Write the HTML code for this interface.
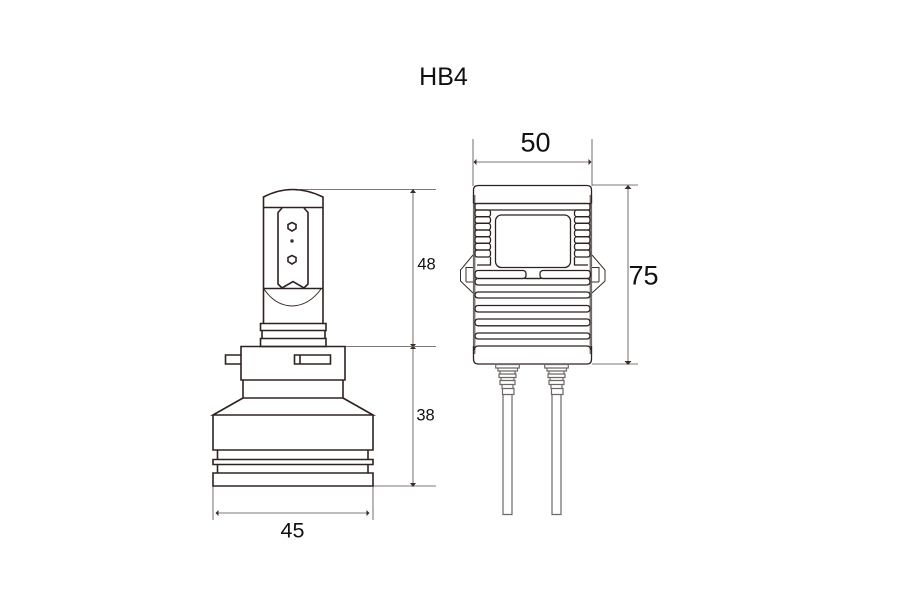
<!DOCTYPE html>
<html>
<head>
<meta charset="utf-8">
<style>
html,body{margin:0;padding:0;background:#fff}
svg{display:block}
text{font-family:"Liberation Sans",sans-serif;fill:#111;text-anchor:middle}
.k{fill:none;stroke:#2e2220;stroke-width:1.6}
.t{fill:none;stroke:#3a2c28;stroke-width:1}
.f{fill:none;stroke:#2e2220;stroke-width:1.3}
.g{fill:none;stroke:#6e6866;stroke-width:1.2}
.d{fill:none;stroke:#807a77;stroke-width:1.1}
.a{fill:#3a2c28}
</style>
</head>
<body>
<svg width="900" height="607" viewBox="0 0 900 607" xmlns="http://www.w3.org/2000/svg">
<rect width="900" height="607" fill="#fff"/>
<text x="443.500" y="85" font-size="25">HB4</text>

<!-- Bulb dimensions -->
<path class="d" d="M300 189.500H436M345 346.500H436M373 486H436M413 190V486M213 486V520M373 486V520M216 513H369"/>
<path class="a" d="M413 189l-3 4h6zM413 487l-3-4h6zM413 347.500l-3-3.500h6zM413 345.500l-3 3.500h6zM215.500 513l3-3v6zM369.500 513l-3-3v6z"/>
<text x="426.500" y="269.500" font-size="16.500">48</text>
<text x="425.500" y="420.500" font-size="16.500">38</text>
<text x="292.500" y="537.500" font-size="21.500">45</text>

<!-- Bulb -->
<path class="k" d="M263.500 323.500V197Q292 182 323 197V323.500M263.500 207.500H323M263.500 288.500H323"/>
<path class="k" d="M282 208L278 212.500V284L282 288L293 281.500L304 288L308 284V212.500L304 208"/>
<path class="t" stroke-width="1.200" d="M264 289Q275 305.500 292 306Q309 305.500 321 289"/>
<path class="k" d="M292 222.500L296 224.500V228.500L292 231L288 228.500V224.500ZM292 255.500L296 257.500V261.500L292 264L288 261.500V257.500Z"/>
<circle class="a" cx="292" cy="241" r="1.700"/>
<path class="k" d="M260.500 323.500H326V330.500H260.500ZM262 330.500V338.500M325 330.500V338.500M260.500 338.500H326V346.500H260.500Z"/>
<path class="k" d="M241 346.500H345V380H241ZM241 355H225.500V364H241M294.500 355H330.500V364H294.500ZM300 355V364"/>
<path class="k" d="M243 380V398H343V380M243 398L213 415H373L343 398"/>
<path class="k" d="M213 415V450H373V415M217.500 450V459.500M368 450V459.500M213 459.500H373V464.500H213ZM217.500 464.500V473M368 464.500V473M213 473H373V486H213Z"/>

<!-- Ballast dimensions -->
<path class="d" d="M473 139V186M592 139V186M474 162H591M592 185H638M592 364H638M628 186V364"/>
<path class="a" d="M473.500 162l3-3v6zM591.500 162l-3-3v6zM628 185l-3.500 4h7zM628 365l-3.500-4h7z"/>
<text x="535.500" y="151.500" font-size="27">50</text>
<text x="643.500" y="284.500" font-size="27">75</text>

<!-- Ballast -->
<path class="g" d="M473.500 195V354M474.800 195V354M591.500 195V354M590.200 195V354"/>
<path class="f" d="M473.500 203.500V190Q473.500 185.500 478.500 185.500H587Q591.500 185.500 591.500 190V203.500"/>
<path class="f" d="M473.500 346V359Q473.500 364 478.500 364H587Q591.500 364 591.500 359V346"/>
<path class="f" d="M474 203.500H591M478 346H587Q590 346 591 350M478 346Q475 346 474 350"/>
<rect class="f" x="495.500" y="215" width="75" height="52.500" rx="6"/>
<rect class="f" x="475" y="203.500" width="115" height="6.500" rx="2"/>
<g class="f">
<rect x="475" y="210" width="15.500" height="6.700" rx="2.500"/>
<rect x="475" y="216.700" width="15.500" height="6.600" rx="2.500"/>
<rect x="475" y="223.300" width="15.500" height="6.700" rx="2.500"/>
<rect x="475" y="230" width="15.500" height="6.700" rx="2.500"/>
<rect x="475" y="236.700" width="15.500" height="6.600" rx="2.500"/>
<rect x="475" y="243.300" width="15.500" height="6.700" rx="2.500"/>
<rect x="475" y="250" width="15.500" height="7" rx="2.500"/>
<path d="M477 265H490.500V257"/>
<rect x="574.500" y="210" width="15.500" height="6.700" rx="2.500"/>
<rect x="574.500" y="216.700" width="15.500" height="6.600" rx="2.500"/>
<rect x="574.500" y="223.300" width="15.500" height="6.700" rx="2.500"/>
<rect x="574.500" y="230" width="15.500" height="6.700" rx="2.500"/>
<rect x="574.500" y="236.700" width="15.500" height="6.600" rx="2.500"/>
<rect x="574.500" y="243.300" width="15.500" height="6.700" rx="2.500"/>
<rect x="574.500" y="250" width="15.500" height="7" rx="2.500"/>
<path d="M588 265H574.500V257"/>
<rect x="475" y="270.500" width="51" height="8" rx="3"/>
<rect x="540" y="270.500" width="50.500" height="8" rx="3"/>
<path d="M526 278.500H540"/>
<rect x="475" y="278.500" width="115" height="6.500" rx="3"/>
<rect x="475" y="292" width="115" height="6" rx="3"/>
<rect x="475" y="305.500" width="115" height="6.500" rx="3"/>
<rect x="475" y="319" width="115" height="6.800" rx="3"/>
<rect x="475" y="333" width="115" height="6" rx="3"/>
</g>
<path class="t" d="M473 255L460.500 270V281L473 293M466 282V267.500H473M466 282H473"/>
<path class="t" d="M592 255L605 270V281L592 293M599 282V267.500H592M599 282H592"/>

<!-- Connectors -->
<g class="g">
<path d="M495.700 364.500H519.300V368H495.700ZM498 368H517.500V371H498ZM500 371H515V374H500ZM499 374H516V377.500H499ZM501 377.500H514V380.500H501ZM500 380.500H515V384.500H500ZM502 384.500H513V388.500H502ZM502.500 388.500H514V394.500H502.500ZM503 394.500V514.500H512V394.500"/>
<path transform="translate(49 0)" d="M495.700 364.500H519.300V368H495.700ZM498 368H517.500V371H498ZM500 371H515V374H500ZM499 374H516V377.500H499ZM501 377.500H514V380.500H501ZM500 380.500H515V384.500H500ZM502 384.500H513V388.500H502ZM502.500 388.500H514V394.500H502.500ZM503 394.500V514.500H512V394.500"/>
</g>
</svg>
</body>
</html>
